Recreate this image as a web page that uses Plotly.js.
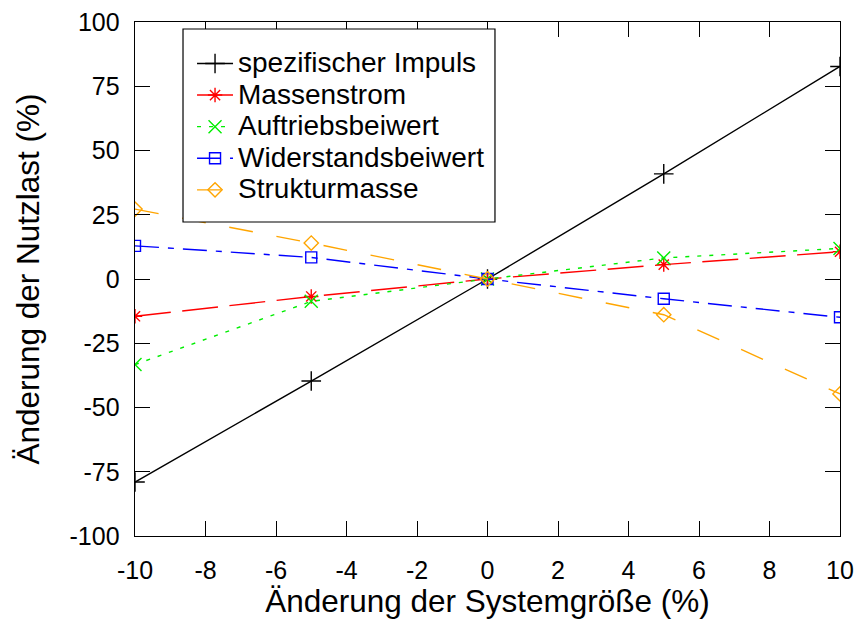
<!DOCTYPE html>
<html>
<head>
<meta charset="utf-8">
<script src="https://cdn.plot.ly/plotly-3.0.1.min.js"></script>
<style>html,body{margin:0;padding:0;background:#fff;}</style>
</head>
<body>
<div id="chart" style="width:856px;height:619px;"></div>
<script>
const xVals = [-10, -5, 0, 5, 10];
const impuls = [-79.0, -39.7, 0, 40.9, 82.7];
const massenstrom = [-14.5, -6.8, 0, 5.6, 10.6];
const auftrieb = [-33.3, -8.7, 0, 8.2, 11.9];
const widerstand = [12.9, 8.4, 0, -7.7, -14.9];
const strukturmasse = [27.2, 14.0, 0, -13.9, -44.7];
const seriesNames = ["spezifischer Impuls", "Massenstrom", "Auftriebsbeiwert", "Widerstandsbeiwert", "Strukturmasse"];
const xTickVals = [-10, -8, -6, -4, -2, 0, 2, 4, 6, 8, 10];
const xTickText = ["-10", "-8", "-6", "-4", "-2", "0", "2", "4", "6", "8", "10"];
const yTickVals = [-100, -75, -50, -25, 0, 25, 50, 75, 100];
const yTickText = ["-100", "-75", "-50", "-25", "0", "25", "50", "75", "100"];

const styles = [
  {color: "#000000", dash: "solid", symbol: "cross-thin-open", size: 14},
  {color: "#ff0000", dash: "36px,11.5px", symbol: "asterisk-open", size: 12},
  {color: "#00ee00", dash: "4px,8px", symbol: "x-thin-open", size: 13},
  {color: "#0000ff", dash: "24px,9px,6px,9px", symbol: "square-open", size: 11},
  {color: "#ffa500", dash: "24px,24px", symbol: "diamond-open", size: 11}
];
const ys = [impuls, massenstrom, auftrieb, widerstand, strukturmasse];
const data = ys.map((y, i) => ({
  x: xVals, y: y, name: '<span style="font-size:28px">' + seriesNames[i] + '</span>',
  type: "scatter", mode: "lines+markers",
  line: {color: styles[i].color, width: 1.4, dash: styles[i].dash},
  marker: {symbol: styles[i].symbol, size: styles[i].size, color: styles[i].color,
           line: {color: styles[i].color, width: 1.4}}
}));

const fam = "Liberation Sans, Arial, sans-serif";
const layout = {
  width: 856, height: 619,
  margin: {l: 135, r: 16, t: 22, b: 83},
  paper_bgcolor: "#fff", plot_bgcolor: "#fff",
  font: {family: fam, color: "#000"},
  showlegend: true,
  legend: {x: 0.0809, y: 0.9598, xanchor: "left", yanchor: "top", bgcolor: "rgba(0,0,0,0)",
           borderwidth: 0, font: {family: fam, size: 22, color: "#000"}, itemwidth: 36},
  shapes: [{type: "rect", xref: "paper", yref: "paper", x0: 0.0681, x1: 0.5106, y0: 0.6109, y1: 0.9864,
            fillcolor: "#fff", line: {color: "#000", width: 1.2}, layer: "above"}],
  xaxis: {range: [-10, 10], tickvals: xTickVals, ticktext: xTickText, ticks: "inside", ticklen: 15,
          tickwidth: 1, tickcolor: "#000", showline: true, linecolor: "#000", linewidth: 1.4, mirror: "ticks",
          showgrid: false, zeroline: false, tickfont: {size: 25, family: fam}, ticklabelstandoff: 12,
          title: {text: "Änderung der Systemgröße (%)", font: {size: 31.5, family: fam}, standoff: 4}},
  yaxis: {range: [-100, 100], tickvals: yTickVals, ticktext: yTickText, ticks: "inside", ticklen: 15,
          tickwidth: 1, tickcolor: "#000", showline: true, linecolor: "#000", linewidth: 1.4, mirror: "ticks",
          showgrid: false, zeroline: false, tickfont: {size: 25, family: fam}, ticklabelstandoff: 9,
          title: {text: "Änderung der Nutzlast (%)", font: {size: 31.5, family: fam}, standoff: 20}}
};
Plotly.newPlot("chart", data, layout, {displayModeBar: false, staticPlot: true});
</script>
</body>
</html>
